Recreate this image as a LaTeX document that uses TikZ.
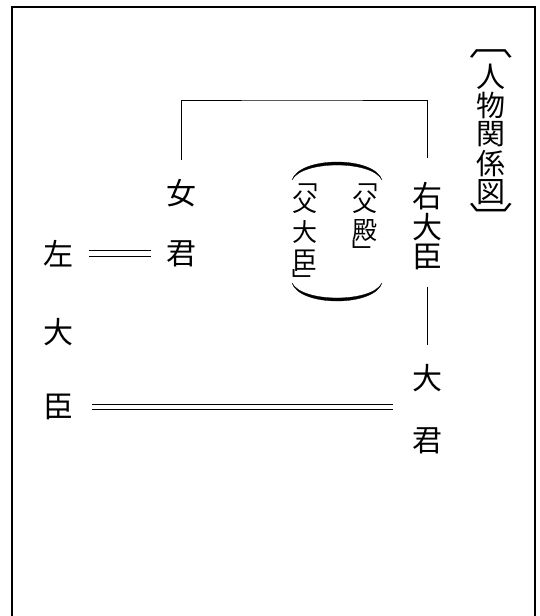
\documentclass[tikz,border=0pt]{standalone}
\usepackage{graphicx}
\usepackage{fontspec}
\setmainfont{Noto Sans CJK JP}
\newfontfamily\jpfont{Noto Sans CJK JP}
% one vertical cell: #1 = cell height, #2 = glyph
\newcommand{\vc}[2]{\hbox to 1em{\hss\vbox to #1{\vss\hbox{#2}\vss}\hss}}
\begin{document}
\begin{tikzpicture}[x=1pt,y=-1pt,
  txt/.style={inner sep=0pt, outer sep=0pt, font=\jpfont\fontsize{30}{30}\selectfont},
  ttl/.style={inner sep=0pt, outer sep=0pt, anchor=north, font=\jpfont\fontsize{29}{29}\selectfont},
  sml/.style={inner sep=0pt, outer sep=0pt, anchor=north, font=\jpfont\fontsize{25}{25}\selectfont},
  col/.style={inner sep=0pt, outer sep=0pt, anchor=north, font=\jpfont\fontsize{30}{30}\selectfont},
  link/.style={line width=1pt},
  dblup/.style={line width=1.1pt, transform canvas={yshift=2.6pt}},
  dbldn/.style={line width=1.1pt, transform canvas={yshift=-2.6pt}},
  frame/.style={line width=1.4pt},
  paren/.style={fill=black, draw=black, line width=0.3pt}]
\useasboundingbox (0,0) rectangle (540,616);
% frame (open at bottom)
\draw[frame] (12,616) -- (12,7) -- (535,7) -- (535,616);
% title
\node[ttl] (title) at (491,45) {\vbox{\offinterlineskip
  \vc{17pt}{\scalebox{1.5}[1.2]{︹}}\vc{29pt}{人}\vc{29pt}{物}\vc{29pt}{関}\vc{29pt}{係}\vc{29pt}{図}\vc{22pt}{\scalebox{1.5}[1.2]{︺}}}};
% right minister
\node[col] (udaijin) at (427,181) {\vbox{\offinterlineskip
  \vc{30.5pt}{右}\vc{30.5pt}{大}\vc{30.5pt}{臣}}};
\node[txt] (rdai) at (427,378) {\vc{30pt}{大}};
\node[txt] (rkimi) at (427,441) {\vc{30pt}{君}};
% daughter
\node[txt] (onna) at (181,193) {\vc{30pt}{女}};
\node[txt] (lkimi) at (181,253.5) {\vc{30pt}{君}};
% left minister
\node[txt] (hidari) at (58,253.5) {\vc{30pt}{左}};
\node[txt] (ldai) at (58,332) {\vc{30pt}{大}};
\node[txt] (lomi) at (58,407) {\vc{30pt}{臣}};
% alternative names
\node[sml] (chichitono) at (365,187.75) {\vbox{\offinterlineskip
  \vc{0pt}{﹁}\vc{28.5pt}{父}\vc{28.5pt}{殿}\vc{12pt}{﹂}}};
\node[sml] (chichiotodo) at (305,187.25) {\vbox{\offinterlineskip
  \vc{0pt}{﹁}\vc{29.5pt}{父}\vc{29.5pt}{大}\vc{29.5pt}{臣}\vc{8pt}{﹂}}};
% parentheses (arcs above and below)
\path[paren] (292,180) .. controls (300,156) and (374,156) .. (382,180)
  .. controls (372,160) and (302,160) .. (292,180) -- cycle;
\path[paren] (292,283) .. controls (300,307) and (374,307) .. (382,283)
  .. controls (372,303) and (302,303) .. (292,283) -- cycle;
% connectors
\coordinate (apex) at (300,100);
\draw[link, shorten <=18pt, shorten >=23pt] (onna) |- (apex) -| (udaijin);
\draw[link, shorten <=14pt, shorten >=18pt] (udaijin) -- (rdai);
\draw[dblup, shorten <=16pt, shorten >=15pt] (hidari) -- (lkimi);
\draw[dbldn, shorten <=16pt, shorten >=15pt] (hidari) -- (lkimi);
\coordinate (marryend) at (393,407);
\draw[dblup, shorten <=19pt] (lomi) -- (marryend);
\draw[dbldn, shorten <=19pt] (lomi) -- (marryend);
\end{tikzpicture}
\end{document}
